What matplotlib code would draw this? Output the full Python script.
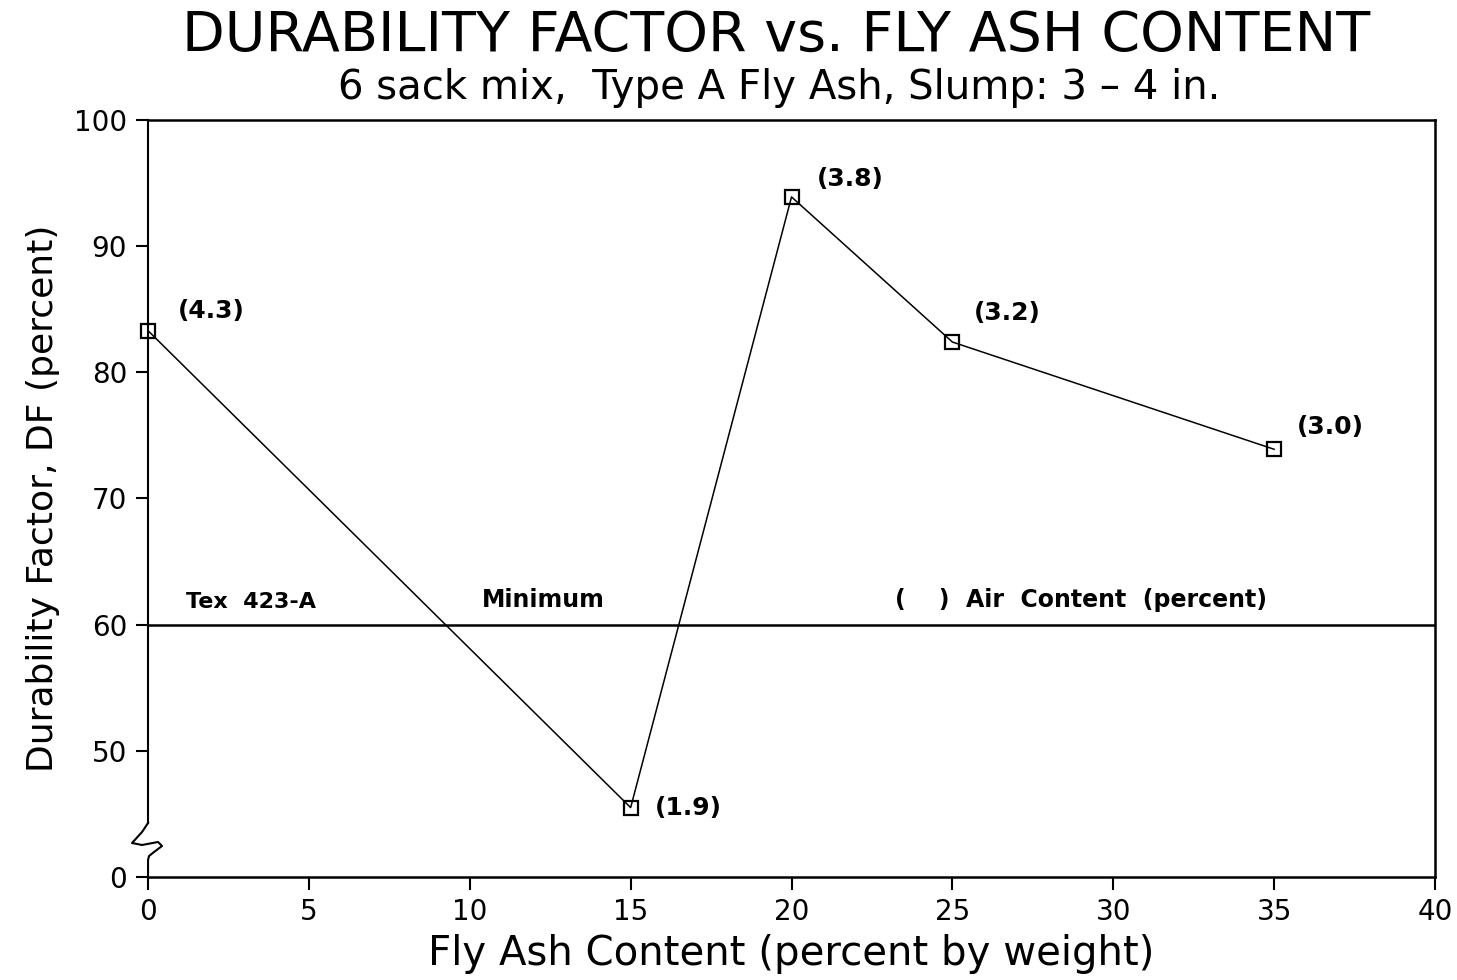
import matplotlib
matplotlib.use('Agg')
import matplotlib.pyplot as plt
import numpy as np

# Data
flyAsh = [0, 15, 20, 25, 35]
durability = [83.3, 45.5, 93.9, 82.4, 73.9]
airContent = ['(4.3)', '(1.9)', '(3.8)', '(3.2)', '(3.0)']
labelOffsets = [(30, 20), (24, 0), (25, 18), (21, 29), (23, 22)]  # pixels
minimumDF = 60

xTicks = [0, 5, 10, 15, 20, 25, 30, 35, 40]
# axis is broken: the bottom tick (drawn at 40) reads "0"
yTicks = [40, 50, 60, 70, 80, 90, 100]
yTickLabels = ['0', '50', '60', '70', '80', '90', '100']

plt.rcParams['font.family'] = ['DejaVu Sans']

fig = plt.figure(figsize=(14.57, 9.8), dpi=100)
ax = fig.add_axes([0.1016, 0.1051, 0.8833, 0.7725])

# Main curve with open square markers
ax.plot(flyAsh, durability, color='black', linewidth=1.1,
        marker='s', markersize=10, markerfacecolor='none',
        markeredgecolor='black', markeredgewidth=1.6, clip_on=False)

# Air content labels next to each point
for x, y, lab, off in zip(flyAsh, durability, airContent, labelOffsets):
    ax.annotate(lab, (x, y), xytext=off, textcoords='offset pixels',
                fontsize=18, fontweight='bold', ha='left', va='center')

# Tex 423-A minimum line
ax.axhline(minimumDF, color='black', linewidth=1.8)
ax.text(3.2, 61.0, 'Tex  423-A', fontsize=16, fontweight='bold', ha='center', va='bottom')
ax.text(12.3, 61.0, 'Minimum', fontsize=17, fontweight='bold', ha='center', va='bottom')
ax.text(29.0, 61.0, '(    )  Air  Content  (percent)', fontsize=17, fontweight='bold',
        ha='center', va='bottom')

ax.set_xlim(0, 40)
ax.set_ylim(40, 100)
ax.set_xticks(xTicks)
ax.set_yticks(yTicks)
ax.set_yticklabels(yTickLabels)
ax.tick_params(direction='out', length=9, width=1.5, labelsize=20, pad=6)

for s in ['top', 'right', 'bottom']:
    ax.spines[s].set_linewidth(1.8)
ax.spines['left'].set_visible(False)

# left spine with a break squiggle near the bottom
W, H = 1287.0, 757.0
ax.plot([0, 0], [1, (877 - 823) / H], transform=ax.transAxes,
        color='black', linewidth=1.5, clip_on=False)
sq_px = [(0, 823), (-6, 832), (-16, 843), (-6, 845), (10, 842), (14, 846),
         (6, 852), (1, 856), (0, 860), (0, 877)]
sx = [p[0] / W for p in sq_px]
sy = [(877 - p[1]) / H for p in sq_px]
ax.plot(sx, sy, transform=ax.transAxes, color='black', linewidth=1.5, clip_on=False)

ax.set_xlabel('Fly Ash Content (percent by weight)', fontsize=29, labelpad=6)
ax.set_ylabel('Durability Factor, DF (percent)', fontsize=26, labelpad=10)

fig.text(0.533, 0.963, 'DURABILITY FACTOR vs. FLY ASH CONTENT', fontsize=40,
         ha='center', va='center')
fig.text(0.535, 0.910, '6 sack mix,  Type A Fly Ash, Slump: 3 \u2013 4 in.', fontsize=29,
         ha='center', va='center')

fig.savefig('out.png', dpi=100)
